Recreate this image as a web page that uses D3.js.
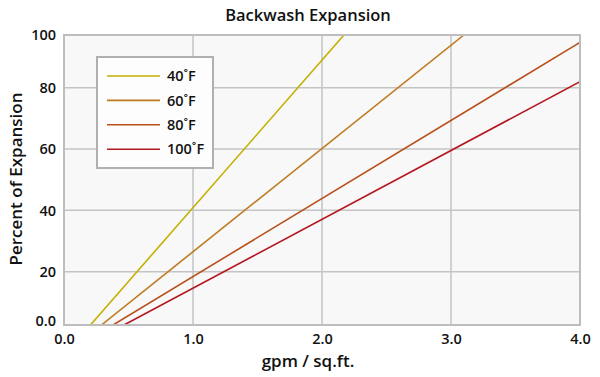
<!DOCTYPE html>
<html>
<head>
<meta charset="utf-8">
<script src="https://cdn.jsdelivr.net/npm/d3@7"></script>
<style>
  body { margin: 0; background: #fff; }
  svg text { font-family: "Open Sans", "Noto Sans", sans-serif; fill: #111; }
</style>
</head>
<body>
<div id="chart"></div>
<script>
// values
const xTicks = [0, 1, 2, 3, 4];
const xTickLabels = ['0.0', '1.0', '2.0', '3.0', '4.0'];
const yTicks = [0, 20, 40, 60, 80, 100];
const yTickLabels = ['0.0', '20', '40', '60', '80', '100'];

const seriesNames = ['40˚F', '60˚F', '80˚F', '100˚F'];
const seriesColors = ['#c4b000', '#c07a1e', '#b9501c', '#b3171f'];
// each line: [gpm, % expansion] start and end
const line40 = [[0.205, 0], [2.17, 100]];
const line60 = [[0.29, 0], [3.10, 100]];
const line80 = [[0.38, 0], [4.0, 97.2]];
const line100 = [[0.465, 0], [4.0, 82.3]];
const seriesData = [line40, line60, line80, line100];

const width = 600, height = 377;
const plotLeft = 64, plotRight = 580, plotTop = 35, plotBottom = 325;

const svg = d3.select('#chart').append('svg')
    .attr('width', width)
    .attr('height', height);

const x = d3.scaleLinear().domain([0, 4]).range([plotLeft, plotRight]);
// the gridlines in the source are not evenly spaced, so the scale is piecewise
const y = d3.scaleLinear().domain([0, 20, 80, 100]).range([plotBottom, 271.7, 87.7, plotTop]);

svg.append('rect')
    .attr('x', plotLeft).attr('y', plotTop)
    .attr('width', plotRight - plotLeft).attr('height', plotBottom - plotTop)
    .attr('fill', '#f8f8f8');

// gridlines
svg.append('g')
    .selectAll('line')
    .data(xTicks.slice(1, -1))
    .enter().append('line')
    .attr('x1', d => x(d)).attr('x2', d => x(d))
    .attr('y1', plotTop).attr('y2', plotBottom)
    .attr('stroke', '#c4c4c4').attr('stroke-width', 1.5);

svg.append('g')
    .selectAll('line')
    .data(yTicks.slice(1, -1))
    .enter().append('line')
    .attr('x1', plotLeft).attr('x2', plotRight)
    .attr('y1', d => y(d)).attr('y2', d => y(d))
    .attr('stroke', '#c4c4c4').attr('stroke-width', 1.5);

svg.append('defs').append('clipPath').attr('id', 'plot-clip')
    .append('rect')
    .attr('x', plotLeft).attr('y', plotTop)
    .attr('width', plotRight - plotLeft).attr('height', plotBottom - plotTop);

const line = d3.line().x(d => x(d[0])).y(d => y(d[1]));

svg.append('g')
    .attr('clip-path', 'url(#plot-clip)')
    .selectAll('path')
    .data(seriesData)
    .enter().append('path')
    .attr('d', line)
    .attr('fill', 'none')
    .attr('stroke', (d, i) => seriesColors[i])
    .attr('stroke-width', 1.6);

// frame
svg.append('rect')
    .attr('x', plotLeft).attr('y', plotTop)
    .attr('width', plotRight - plotLeft).attr('height', plotBottom - plotTop)
    .attr('fill', 'none')
    .attr('stroke', '#bdbdbd').attr('stroke-width', 2);

// axes (labels only)
const xAxis = d3.axisBottom(x)
    .tickValues(xTicks)
    .tickFormat((d, i) => xTickLabels[i])
    .tickSize(0).tickPadding(9);
const gx = svg.append('g').attr('transform', `translate(0,${plotBottom})`).call(xAxis);
gx.select('.domain').remove();
gx.selectAll('text').attr('font-size', 14.5).attr('font-weight', 600)
    .attr('font-family', '"Open Sans", sans-serif').attr('fill', '#111');

const yAxis = d3.axisLeft(y)
    .tickValues(yTicks)
    .tickFormat((d, i) => yTickLabels[i])
    .tickSize(0).tickPadding(8);
const gy = svg.append('g').attr('transform', `translate(${plotLeft},0)`).call(yAxis);
gy.select('.domain').remove();
gy.selectAll('text').attr('font-size', 14.5).attr('font-weight', 600)
    .attr('font-family', '"Open Sans", sans-serif').attr('fill', '#111');
gy.selectAll('.tick').filter(d => d === 0).select('text').attr('dy', '0.05em');

// titles
svg.append('text')
    .attr('x', 308).attr('y', 21)
    .attr('text-anchor', 'middle')
    .attr('font-size', 16.5).attr('font-weight', 600)
    .text('Backwash Expansion');

svg.append('text')
    .attr('x', 308).attr('y', 367)
    .attr('text-anchor', 'middle')
    .attr('font-size', 17).attr('font-weight', 600)
    .text('gpm / sq.ft.');

svg.append('text')
    .attr('transform', 'translate(22,179) rotate(-90)')
    .attr('text-anchor', 'middle')
    .attr('font-size', 17).attr('font-weight', 600)
    .text('Percent of Expansion');

// legend
const legend = svg.append('g').attr('transform', 'translate(97,57)');
legend.append('rect')
    .attr('width', 116).attr('height', 111)
    .attr('fill', '#fdfdfd')
    .attr('stroke', '#b0b0b0').attr('stroke-width', 2);

const items = legend.selectAll('g.item')
    .data(seriesNames)
    .enter().append('g')
    .attr('class', 'item')
    .attr('transform', (d, i) => `translate(0,${19 + i * 24.4})`);

items.append('line')
    .attr('x1', 10).attr('x2', 63)
    .attr('stroke', (d, i) => seriesColors[i])
    .attr('stroke-width', 1.6);

items.append('text')
    .attr('x', 70).attr('dy', '0.36em')
    .attr('font-size', 14.5).attr('font-weight', 600)
    .text(d => d);
</script>
</body>
</html>
